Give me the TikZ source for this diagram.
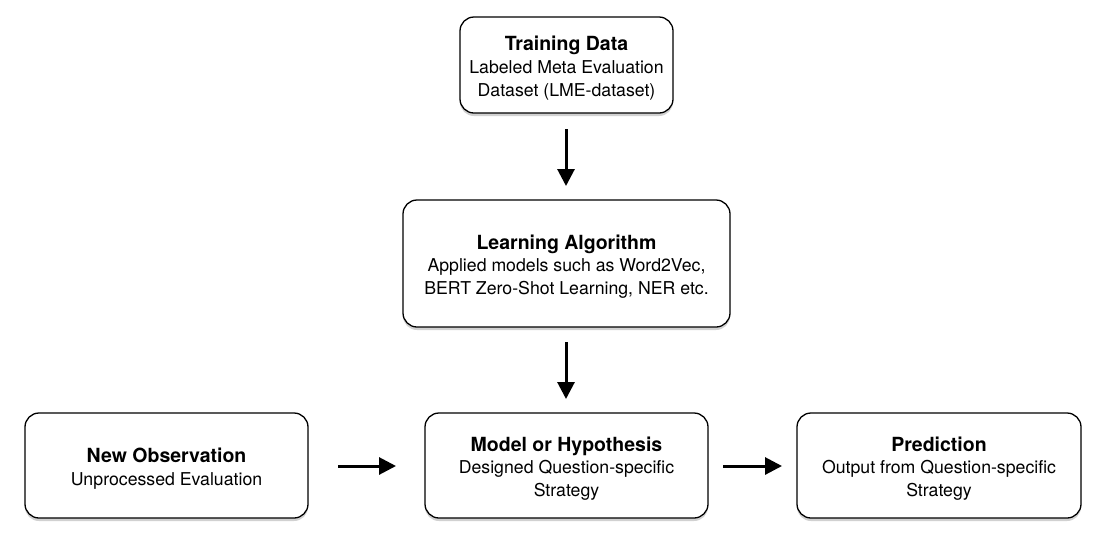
\documentclass[tikz,border=0pt]{standalone}
\usepackage{fontspec}
\setmainfont{TeX Gyre Heros}
\usetikzlibrary{arrows.meta,shadows}
\tikzset{
  box/.style={draw=black, line width=1.3pt, rounded corners=14pt, fill=white,
    align=center, inner sep=0pt,
    font=\fontsize{17.7}{22.8}\selectfont,
    drop shadow={shadow xshift=0pt, shadow yshift=-3pt, opacity=0.18, fill=black}},
  flow/.style={line width=3pt, -{Triangle[length=17pt,width=17pt]}},
}
\newcommand{\ttl}[1]{{\rule{0pt}{20.5pt}\bfseries\fontsize{19.5}{22.8}\selectfont #1}}
\begin{document}
\begin{tikzpicture}[x=1pt,y=-1pt]
\useasboundingbox (0,0) rectangle (1100,542);
\node[box, minimum width=213pt, minimum height=96pt] (train) at (566.5,65)
  {\ttl{Training Data}\\Labeled Meta Evaluation\\Dataset (LME-dataset)};
\node[box, minimum width=327pt, minimum height=127pt] (learn) at (566.5,263.5)
  {\ttl{Learning Algorithm}\\Applied models such as Word2Vec,\\BERT Zero-Shot Learning, NER etc.};
\node[box, minimum width=283pt, minimum height=105pt] (obs) at (166.5,465.5)
  {\ttl{New Observation}\\Unprocessed Evaluation};
\node[box, minimum width=283pt, minimum height=105pt] (model) at (566.5,465.5)
  {\ttl{Model or Hypothesis}\\Designed Question-specific\\Strategy};
\node[box, minimum width=284pt, minimum height=105pt] (pred) at (939,465.5)
  {\ttl{Prediction}\\Output from Question-specific\\Strategy};
\coordinate (a1s) at (566,129); \coordinate (a1e) at (566,186);
\coordinate (a2s) at (566,342); \coordinate (a2e) at (566,399);
\coordinate (a3s) at (338,466); \coordinate (a3e) at (396,466);
\coordinate (a4s) at (723,466); \coordinate (a4e) at (782,466);
\draw[flow] (a1s) -- (a1e);
\draw[flow] (a2s) -- (a2e);
\draw[flow] (a3s) -- (a3e);
\draw[flow] (a4s) -- (a4e);
\end{tikzpicture}
\end{document}
